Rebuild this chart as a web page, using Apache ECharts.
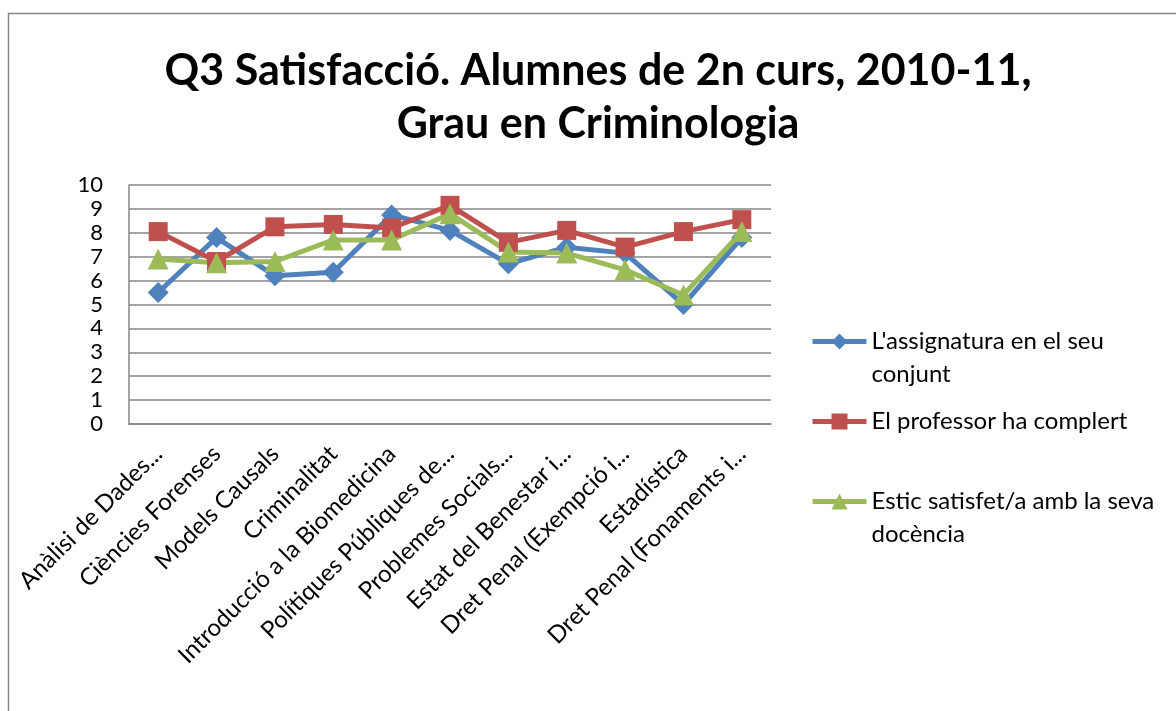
<!DOCTYPE html>
<html lang="ca">
<head>
    <meta charset="UTF-8">
    <title>Q3 Satisfacció</title>
    <script src="https://cdn.jsdelivr.net/npm/echarts@6.0.0/dist/echarts.min.js"></script>
    <style>
        html, body { margin: 0; padding: 0; background: #fff; }
        #chart { width: 1176px; height: 711px; }
    </style>
</head>
<body>
<div id="chart"></div>
<script>
    // assignatures (tal com surten a l'eix)
    var categories = ['Anàlisi de Dades...', 'Ciències Forenses', 'Models Causals', 'Criminalitat',
        'Introducció a la Biomedicina', 'Polítiques Públiques de...', 'Problemes Socials...',
        'Estat del Benestar i...', 'Dret Penal (Exempció i...', 'Estadística', 'Dret Penal (Fonaments i...'];
    var seriesNames = ["L'assignatura en el seu conjunt", 'El professor ha complert', 'Estic satisfet/a amb la seva docència'];
    var assignatura = [5.5, 7.8, 6.2, 6.35, 8.75, 8.1, 6.7, 7.4, 7.15, 5.0, 7.8];
    var professor = [8.05, 6.8, 8.25, 8.35, 8.2, 9.15, 7.6, 8.1, 7.4, 8.05, 8.55];
    var satisfet = [6.9, 6.75, 6.8, 7.7, 7.7, 8.8, 7.2, 7.15, 6.45, 5.4, 8.05];
    var yTicks = [0, 10, 1]; // min, max, interval

    var colors = ['#4F81BD', '#C0504D', '#9BBB59'];
    var symbols = ['diamond', 'rect', 'triangle'];
    var font = 'Lato';

    var chart = echarts.init(document.getElementById('chart'));

    function legendFor(i, top, label) {
        return {
            data: [seriesNames[i]],
            left: 805,
            top: top,
            orient: 'vertical',
            itemWidth: 54,
            itemHeight: 20,
            itemGap: 0,
            selectedMode: false,
            lineStyle: { width: 5 },
            formatter: function () { return label; },
            textStyle: { fontFamily: font, fontSize: 24, color: '#000', lineHeight: 33 }
        };
    }

    var option = {
        animation: false,
        backgroundColor: '#fff',
        title: {
            text: 'Q3 Satisfacció. Alumnes de 2n curs, 2010-11,\nGrau en Criminologia',
            left: 593,
            textAlign: 'center',
            top: 40,
            textStyle: { fontFamily: font, fontSize: 43, fontWeight: 'bold', color: '#000', lineHeight: 53 }
        },
        graphic: [{
            type: 'rect',
            shape: { x: 8.5, y: 13.5, width: 1200, height: 760 },
            style: { fill: 'none', stroke: '#868686', lineWidth: 1.5 },
            silent: true
        }],
        legend: [
            legendFor(0, 287, "\nL'assignatura en el seu\nconjunt"),
            legendFor(1, 400, 'El professor ha complert'),
            legendFor(2, 447, '\nEstic satisfet/a amb la seva\ndocència')
        ],
        grid: { left: 129, right: 405, top: 185, bottom: 287 },
        xAxis: {
            type: 'category',
            data: categories,
            boundaryGap: true,
            axisLine: { show: true, lineStyle: { color: '#868686', width: 1.5 } },
            axisTick: { show: false },
            axisLabel: { interval: 0, rotate: 45, margin: 26, fontFamily: font, fontSize: 24, color: '#000' }
        },
        yAxis: {
            type: 'value',
            min: yTicks[0],
            max: yTicks[1],
            interval: yTicks[2],
            axisLine: { show: true, lineStyle: { color: '#868686', width: 1.5 } },
            axisTick: { show: false },
            axisLabel: { margin: 26, fontFamily: font, fontSize: 22, color: '#000' },
            splitLine: { show: true, lineStyle: { color: '#868686', width: 1.5 } }
        },
        series: [assignatura, professor, satisfet].map(function (d, i) {
            return {
                name: seriesNames[i],
                type: 'line',
                data: d,
                symbol: symbols[i],
                symbolSize: i === 1 ? 19 : 21,
                color: colors[i],
                lineStyle: { width: 5, color: colors[i] },
                itemStyle: { color: colors[i] }
            };
        })
    };
    chart.setOption(option);
</script>
</body>
</html>
